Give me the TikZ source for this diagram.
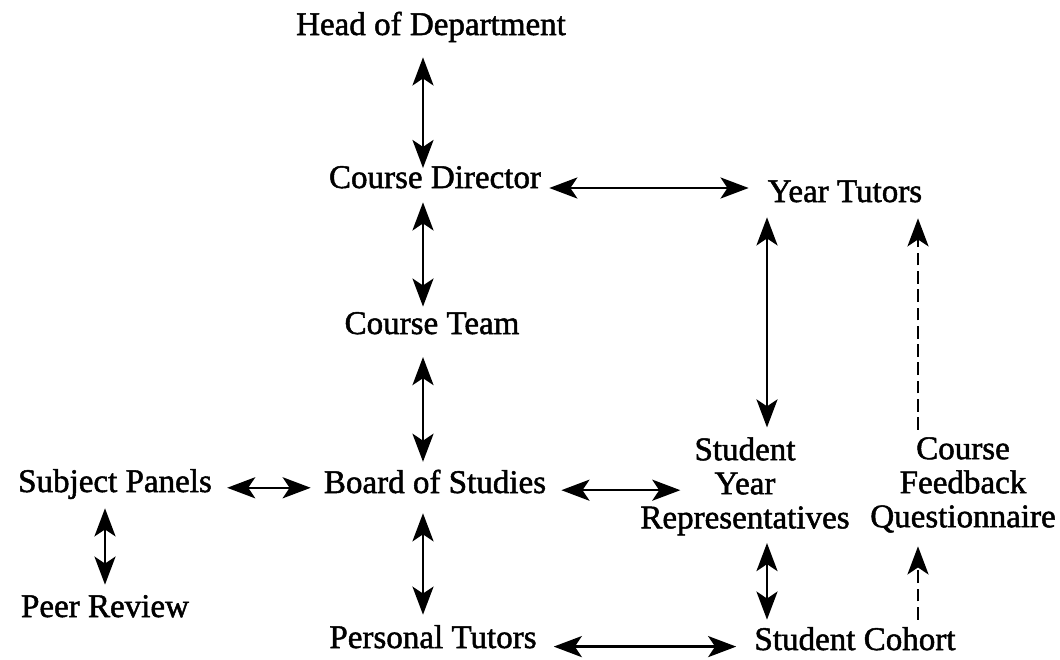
\documentclass[tikz,border=0pt]{standalone}
\usepackage{fontspec}
\setmainfont{Liberation Serif}[UprightFeatures={FakeBold=1.5}]
\usepackage{tikz}
\usetikzlibrary{arrows.meta,positioning}

\tikzset{
    unit/.style={font=\fontsize{23.5}{24.2}\selectfont, inner sep=0pt, text height=16pt, text depth=5.2pt},
    stack/.style={font=\fontsize{23.5}{24.2}\selectfont, inner sep=0pt, align=center},
    biarr/.style={{Stealth[length=20pt,width=15pt,inset=5pt]}-{Stealth[length=20pt,width=15pt,inset=5pt]}, line width=1.6pt},
    fbarr/.style={-{Stealth[length=20pt,width=15pt,inset=5pt]}, line width=1.6pt, dash pattern=on 9pt off 4pt}
}

\begin{document}
\begin{tikzpicture}[x=0.025cm, y=-0.025cm]
        \useasboundingbox (0,0) rectangle (1060,659);

        % Nodes (placed at their baselines)
        \node[unit, anchor=base] (hod) at (431, 35) {Head of Department};
        \node[unit, anchor=base] (cd) at (435, 188) {Course Director};
        \node[unit, anchor=base] (yt) at (845, 202) {Year Tutors};
        \node[unit, anchor=base] (ct) at (432, 334) {Course Team};
        \node[unit, anchor=base] (sp) at (115, 492) {Subject Panels};
        \node[unit, anchor=base] (bos) at (435, 493) {Board of Studies};
        \node[unit, anchor=base] (pr) at (105, 617) {Peer Review};
        \node[unit, anchor=base] (pt) at (433, 648) {Personal Tutors};
        \node[unit, anchor=base] (sc) at (855, 650) {Student Cohort};
        \node[stack, anchor=north] (syr) at (745, 437) {Student\\Year\\Representatives};
        \node[stack, anchor=north] (cfq) at (963, 437) {Course\\Feedback\\Questionnaire};

        % Lanes for the vertical connectors
        \coordinate (spine) at (423, 0);
        \coordinate (repx) at (767, 0);
        \coordinate (fbx) at (918, 0);

        % Left spine
        \draw[biarr, shorten <=10.5pt, shorten >=-2pt] (hod.south -| spine) -- (cd.north -| spine);
        \draw[biarr, shorten <=4.8pt, shorten >=3.3pt] (cd.south -| spine) -- (ct.north -| spine);
        \draw[biarr, shorten <=11pt, shorten >=6pt] (ct.south -| spine) -- (bos.north -| spine);
        \draw[biarr, shorten <=9pt, shorten >=7.5pt] (bos.south -| spine) -- (pt.north -| spine);
        \draw[biarr, shorten <=6.2pt, shorten >=6.8pt] (sp.south -| pr) -- (pr.north);

        % Horizontal links
        \draw[biarr, shorten <=5.7pt, shorten >=13.5pt] (cd.base east) -- (cd.base east -| yt.west);
        \draw[biarr, shorten <=10.7pt, shorten >=9.2pt] ([yshift=3pt]sp.base east) -- ([yshift=3pt]sp.base east -| bos.west);
        \draw[biarr, shorten <=10.7pt, shorten >=46pt] ([yshift=2pt]bos.base east) -- ([yshift=2pt]bos.base east -| syr.north);
        \draw[biarr, shorten <=12pt, shorten >=12.8pt] ([yshift=1pt]pt.base east) -- ([yshift=1pt]pt.base east -| sc.west);

        % Right side
        \draw[biarr, shorten <=5.5pt, shorten >=6.8pt] (yt.south -| repx) -- (syr.north -| repx);
        \draw[biarr, shorten <=5.3pt, shorten >=5.4pt] (syr.south -| repx) -- (sc.north -| repx);

        % Feedback (dashed)
        \draw[fbarr, shorten <=5.4pt, shorten >=9.6pt] (sc.north -| fbx) -- (cfq.south -| fbx);
        \draw[fbarr, shorten <=5pt, shorten >=6.2pt] (cfq.north -| fbx) -- (yt.south -| fbx);
\end{tikzpicture}
\end{document}
